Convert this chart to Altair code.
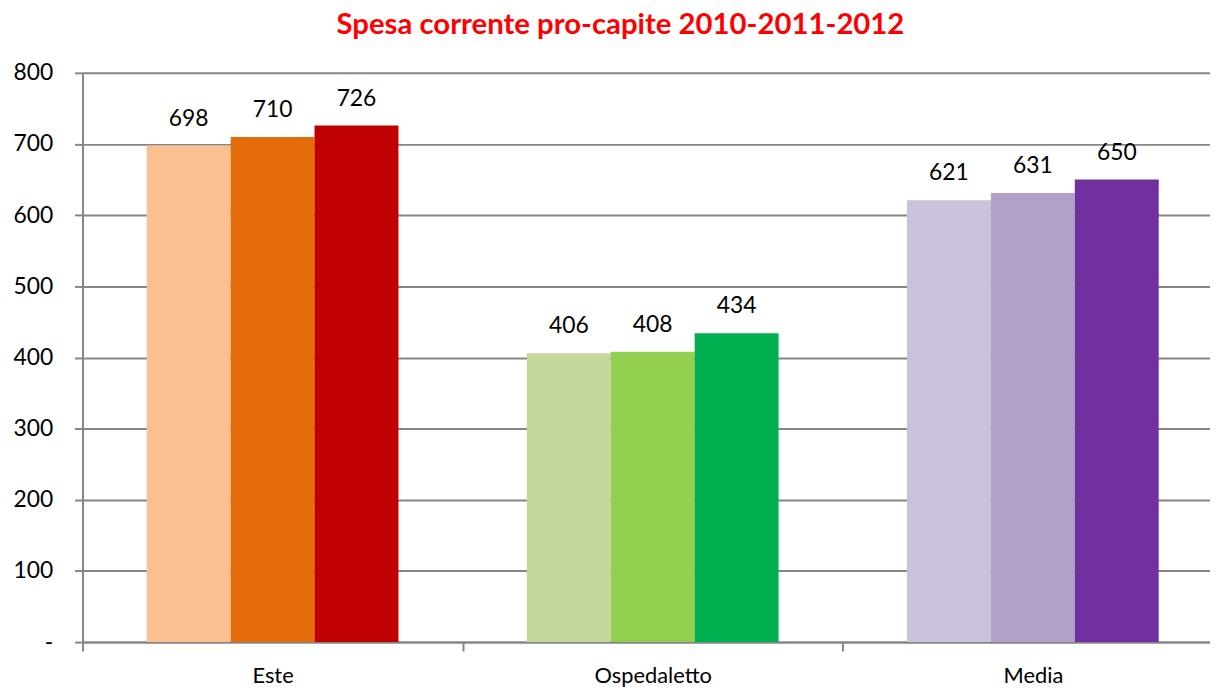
import altair as alt
import pandas as pd

categories = ["Este", "Ospedaletto", "Media"]
years = ["2010", "2011", "2012"]
values = {
    "Este": [698, 710, 726],
    "Ospedaletto": [406, 408, 434],
    "Media": [621, 631, 650],
}
bar_colors = {
    "Este": ["#FAC090", "#E46C0A", "#C00000"],
    "Ospedaletto": ["#C3D69B", "#92D050", "#00B050"],
    "Media": ["#CCC1DA", "#B2A2C7", "#7030A0"],
}

rows = []
keys, cols = [], []
for c in categories:
    for y, v, col in zip(years, values[c], bar_colors[c]):
        k = f"{c}-{y}"
        rows.append({"cat": c, "year": y, "val": v, "key": k})
        keys.append(k)
        cols.append(col)
df = pd.DataFrame(rows)

FONT = "Lato"

base = alt.Chart(df).encode(
    x=alt.X("cat:N", sort=categories, title=None,
            scale=alt.Scale(rangeMin=0, rangeMax=1148, paddingInner=0, paddingOuter=0),
            axis=alt.Axis(labelAngle=0, labelFontSize=22, labelFont=FONT, labelColor="black",
                          tickBand="extent", tickSize=9, tickColor="#868686", tickWidth=2,
                          domainColor="#868686", domainWidth=2, labelPadding=15)),
    xOffset=alt.XOffset("year:N", sort=years,
                        scale=alt.Scale(paddingInner=0, paddingOuter=0.765)),
)

bars = base.mark_bar().encode(
    y=alt.Y("val:Q", title=None,
            scale=alt.Scale(domain=[0, 800], nice=False),
            axis=alt.Axis(values=[0, 100, 200, 300, 400, 500, 600, 700, 800],
                          labelExpr="datum.value == 0 ? '-\u00a0\u00a0\u00a0\u00a0\u00a0\u00a0\u00a0' : datum.label",
                          labelFontSize=23, labelFont=FONT, labelColor="black", labelPadding=22,
                          tickSize=8, tickColor="#868686", tickWidth=2,
                          domainColor="#868686", domainWidth=2,
                          gridColor="#868686", gridWidth=2)),
    color=alt.Color("key:N", scale=alt.Scale(domain=keys, range=cols), legend=None),
)

labels = base.mark_text(baseline="bottom", dy=-15, fontSize=23, font=FONT, color="black").encode(
    y=alt.Y("val:Q"),
    text=alt.Text("val:Q"),
)

chart = (bars + labels).properties(
    width=1135, height=573,
    title=alt.TitleParams("Spesa corrente pro-capite 2010-2011-2012", color="#FF0000",
                          fontSize=29.5, font=FONT, fontWeight="bold", anchor="middle",
                          dx=-26, offset=22),
    padding={"left": 75, "top": 63, "right": 0, "bottom": 52},
    autosize=alt.AutoSizeParams(type="none"),
).configure_view(stroke=None)

chart.save("out.html", embed_options={"renderer": "svg", "actions": False})
